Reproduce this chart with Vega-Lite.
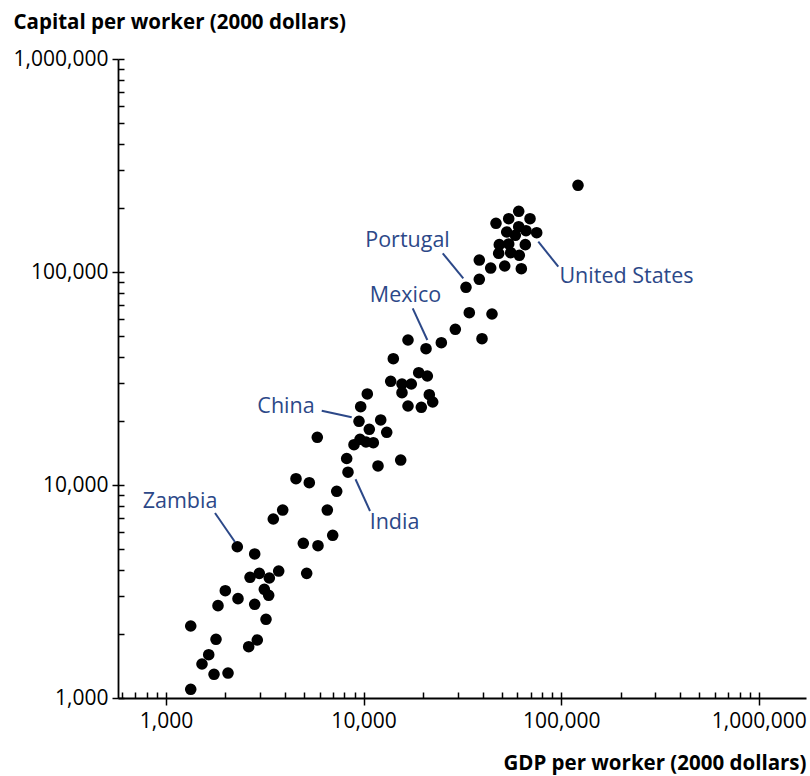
{
  "$schema": "https://vega.github.io/schema/vega-lite/v6.json",
  "width": 688,
  "height": 639,
  "autosize": "none",
  "padding": {"left": 118, "top": 59, "right": 4, "bottom": 78},
  "background": "white",
  "config": {"view": {"stroke": null}, "font": "Open Sans"},
  "datasets": {
    "points": [
      {"gdp": 2295, "capital": 5130}, {"gdp": 2811, "capital": 4745}, {"gdp": 2662, "capital": 3687},
      {"gdp": 2966, "capital": 3848}, {"gdp": 3333, "capital": 3659}, {"gdp": 3718, "capital": 3946},
      {"gdp": 1996, "capital": 3190}, {"gdp": 2314, "capital": 2926}, {"gdp": 3144, "capital": 3238},
      {"gdp": 3309, "capital": 3035}, {"gdp": 1833, "capital": 2713}, {"gdp": 2811, "capital": 2754},
      {"gdp": 3207, "capital": 2342}, {"gdp": 1334, "capital": 2178}, {"gdp": 1791, "capital": 1886},
      {"gdp": 2897, "capital": 1872}, {"gdp": 2621, "capital": 1741}, {"gdp": 1645, "capital": 1597},
      {"gdp": 1521, "capital": 1444}, {"gdp": 1750, "capital": 1292}, {"gdp": 2060, "capital": 1310},
      {"gdp": 1334, "capital": 1099}, {"gdp": 3491, "capital": 6925}, {"gdp": 3896, "capital": 7630},
      {"gdp": 6977, "capital": 5805}, {"gdp": 4953, "capital": 5324}, {"gdp": 5877, "capital": 5188},
      {"gdp": 5152, "capital": 3848}, {"gdp": 4549, "capital": 10706}, {"gdp": 5311, "capital": 10252},
      {"gdp": 7310, "capital": 9341}, {"gdp": 6551, "capital": 7630}, {"gdp": 8211, "capital": 13318},
      {"gdp": 8337, "capital": 11484}, {"gdp": 10440, "capital": 26749}, {"gdp": 9667, "capital": 23313},
      {"gdp": 9478, "capital": 19912}, {"gdp": 10686, "capital": 18265}, {"gdp": 12206, "capital": 20195},
      {"gdp": 13092, "capital": 17682}, {"gdp": 5829, "capital": 16750}, {"gdp": 9589, "capital": 16393},
      {"gdp": 8941, "capital": 15460}, {"gdp": 10283, "capital": 15920}, {"gdp": 11197, "capital": 15800},
      {"gdp": 11827, "capital": 12284}, {"gdp": 15408, "capital": 13100}, {"gdp": 32972, "capital": 84770},
      {"gdp": 34267, "capital": 64400}, {"gdp": 44640, "capital": 63500}, {"gdp": 29117, "capital": 53830},
      {"gdp": 39737, "capital": 48630}, {"gdp": 16775, "capital": 47950}, {"gdp": 20694, "capital": 43630},
      {"gdp": 24736, "capital": 46560}, {"gdp": 14136, "capital": 39170}, {"gdp": 19007, "capital": 33670},
      {"gdp": 21011, "capital": 32490}, {"gdp": 13713, "capital": 30690}, {"gdp": 15640, "capital": 29800},
      {"gdp": 17430, "capital": 29800}, {"gdp": 15640, "capital": 27130}, {"gdp": 21505, "capital": 26540},
      {"gdp": 22370, "capital": 24530}, {"gdp": 16775, "capital": 23490}, {"gdp": 19590, "capital": 23160},
      {"gdp": 121620, "capital": 255300}, {"gdp": 60950, "capital": 192770}, {"gdp": 54240, "capital": 177950},
      {"gdp": 69530, "capital": 177950}, {"gdp": 46770, "capital": 169300}, {"gdp": 52990, "capital": 154100},
      {"gdp": 60950, "capital": 163200}, {"gdp": 58580, "capital": 148700}, {"gdp": 66360, "capital": 156300},
      {"gdp": 75160, "capital": 152900}, {"gdp": 48610, "capital": 134360}, {"gdp": 54240, "capital": 135400},
      {"gdp": 48270, "capital": 122400}, {"gdp": 55520, "capital": 123200}, {"gdp": 61380, "capital": 119800},
      {"gdp": 65810, "capital": 134360}, {"gdp": 38500, "capital": 113800}, {"gdp": 43970, "capital": 104400},
      {"gdp": 51780, "capital": 106700}, {"gdp": 62830, "capital": 103600}, {"gdp": 38500, "capital": 92400}
    ],
    "labels": [
      {"name": "Zambia", "gdp": 1178, "capital": 7798},
      {"name": "China", "gdp": 4049, "capital": 21780},
      {"name": "India", "gdp": 14335, "capital": 6216},
      {"name": "Mexico", "gdp": 16293, "capital": 72310},
      {"name": "Portugal", "gdp": 16680, "capital": 131040},
      {"name": "United States", "gdp": 214050, "capital": 88780}
    ],
    "leaders": [
      {"name": "Zambia", "gdp": 1770, "capital": 7388, "gdp2": 2235, "capital2": 5401},
      {"name": "China", "gdp": 6138, "capital": 22330, "gdp2": 8706, "capital2": 20790},
      {"name": "India", "gdp": 9101, "capital": 10637, "gdp2": 10775, "capital2": 7549},
      {"name": "Mexico", "gdp": 17724, "capital": 67530, "gdp2": 21010, "capital2": 47950},
      {"name": "Portugal", "gdp": 25140, "capital": 122400, "gdp2": 31950, "capital2": 93410},
      {"name": "United States", "gdp": 76580, "capital": 138800, "gdp2": 96670, "capital2": 105900}
    ]
  },
  "resolve": {"axis": {"x": "independent", "y": "independent"}},
  "layer": [
    {
      "data": {"name": "points"},
      "mark": {"type": "circle", "size": 135, "color": "black", "opacity": 1},
      "encoding": {
        "x": {
          "field": "gdp", "type": "quantitative",
          "scale": {"type": "log", "domain": [571.6, 1733000], "nice": false},
          "axis": {
            "orient": "bottom", "title": null, "labels": false, "grid": false,
            "values": [600, 700, 800, 900, 1000, 2000, 3000, 4000, 5000, 6000, 7000, 8000, 9000, 10000, 20000, 30000, 40000, 50000, 60000, 70000, 80000, 90000, 100000, 200000, 300000, 400000, 500000, 600000, 700000, 800000, 900000, 1000000],
            "tickSize": -6, "tickColor": "black", "tickWidth": 1.5,
            "domain": true, "domainColor": "black", "domainWidth": 1.8
          }
        },
        "y": {
          "field": "capital", "type": "quantitative",
          "scale": {"type": "log", "domain": [1000, 1000000], "nice": false},
          "axis": {
            "orient": "left", "title": null, "labels": false, "grid": false,
            "values": [1000, 2000, 3000, 4000, 5000, 6000, 7000, 8000, 9000, 10000, 20000, 30000, 40000, 50000, 60000, 70000, 80000, 90000, 100000, 200000, 300000, 400000, 500000, 600000, 700000, 800000, 900000, 1000000],
            "tickSize": -6, "tickColor": "black", "tickWidth": 1.5,
            "domain": true, "domainColor": "black", "domainWidth": 1.8
          }
        }
      }
    },
    {
      "data": {"name": "labels"},
      "mark": {"type": "text", "font": "Open Sans", "fontSize": 21.5, "color": "#2c4888", "align": "center", "baseline": "alphabetic"},
      "encoding": {
        "x": {
          "field": "gdp", "type": "quantitative",
          "axis": {
            "orient": "bottom", "values": [1000, 10000, 100000, 1000000], "format": ",d",
            "grid": false, "domain": false, "tickSize": 7, "tickColor": "black", "tickWidth": 1.5,
            "labelFont": "Open Sans", "labelFontSize": 21, "labelColor": "black", "labelPadding": 5,
            "title": "GDP per worker (2000 dollars)", "titleFont": "Open Sans", "titleFontSize": 20.5, "titleFontWeight": "bold",
            "titleColor": "black", "titleAnchor": "end", "titleAlign": "right", "titleX": 688, "titleY": 65, "titleBaseline": "middle"
          }
        },
        "y": {
          "field": "capital", "type": "quantitative",
          "axis": {
            "orient": "left", "values": [1000, 10000, 100000, 1000000], "format": ",d",
            "grid": false, "domain": false, "tickSize": 6, "tickColor": "black", "tickWidth": 1.5,
            "labelFont": "Open Sans", "labelFontSize": 21, "labelColor": "black", "labelPadding": 4,
            "title": "Capital per worker (2000 dollars)", "titleFont": "Open Sans", "titleFontSize": 20.5, "titleFontWeight": "bold",
            "titleColor": "black", "titleAngle": 0, "titleAlign": "left", "titleBaseline": "middle", "titleX": -105, "titleY": -37
          }
        },
        "text": {"field": "name"}
      }
    },
    {
      "data": {"name": "leaders"},
      "mark": {"type": "rule", "color": "#2c4888", "strokeWidth": 2},
      "encoding": {
        "x": {"field": "gdp", "type": "quantitative", "axis": null},
        "y": {"field": "capital", "type": "quantitative", "axis": null},
        "x2": {"field": "gdp2"},
        "y2": {"field": "capital2"}
      }
    }
  ]
}
